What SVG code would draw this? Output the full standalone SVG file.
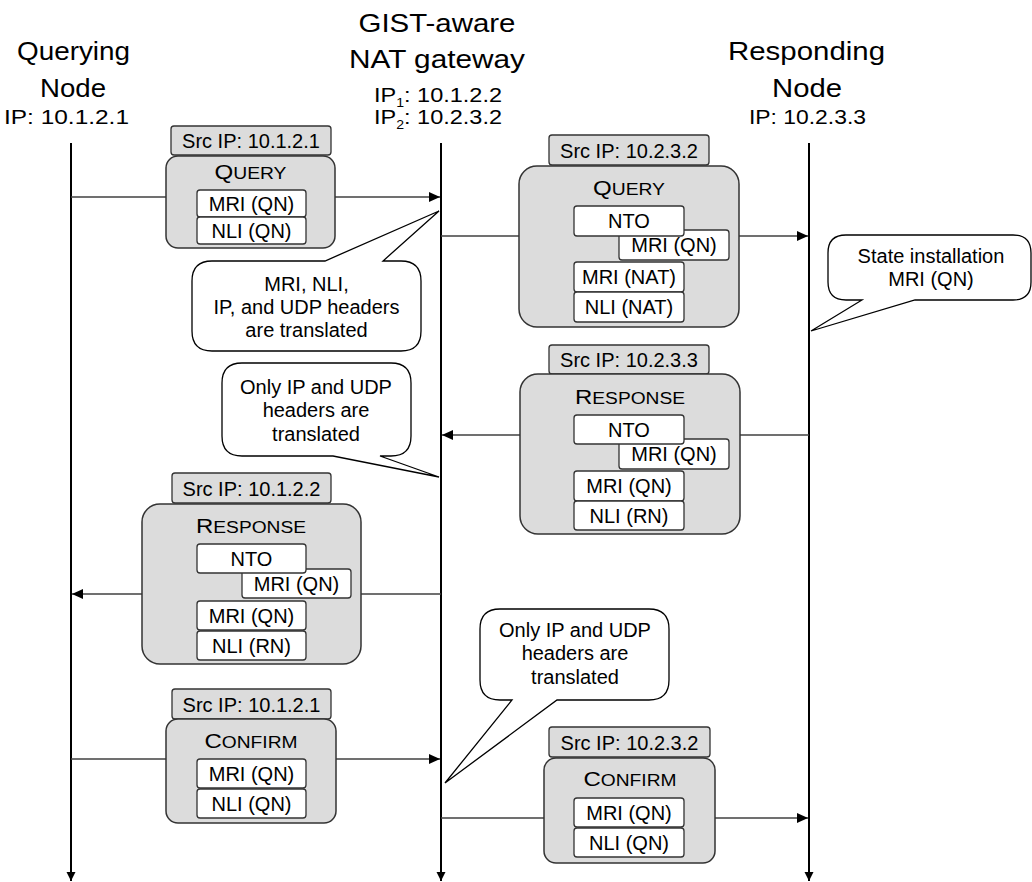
<svg xmlns="http://www.w3.org/2000/svg" width="1032" height="882" viewBox="0 0 1032 882">
<style>
text{font-family:"Liberation Sans",Arial,sans-serif;fill:#000}
.hd{font-size:26px;text-anchor:middle}
.ip{font-size:20px;text-anchor:middle}
.t{font-size:20px;text-anchor:middle}
.sc{font-size:16px}
.life{stroke:#000;stroke-width:2;fill:none}
.msg{stroke:#404040;stroke-width:1.4;fill:none}
.tab{fill:#dcdcdc;stroke:#333;stroke-width:1.3}
.box{fill:#dcdcdc;stroke:#333;stroke-width:1.5}
.in{fill:#fff;stroke:#333;stroke-width:1.3}
.call{fill:#fff;stroke:#000;stroke-width:1.3}
</style>
<defs>
<marker id="ah" markerUnits="userSpaceOnUse" markerWidth="12" markerHeight="10" refX="11" refY="5" orient="auto">
<path d="M0,0 L11,5 L0,10 Z" fill="#000"/>
</marker>
<marker id="lh" markerUnits="userSpaceOnUse" markerWidth="10" markerHeight="10" refX="9" refY="4.5" orient="auto">
<path d="M0,0 L9,4.5 L0,9 Z" fill="#000"/>
</marker>
</defs>

<g id="querying-node">
<text class="hd" x="73.5" y="60" textLength="113" lengthAdjust="spacingAndGlyphs">Querying</text>
<text class="hd" x="73" y="97" textLength="66" lengthAdjust="spacingAndGlyphs">Node</text>
<text class="ip" x="66.5" y="124" textLength="125" lengthAdjust="spacingAndGlyphs">IP: 10.1.2.1</text>
</g>
<g id="nat-gateway">
<text class="hd" x="437" y="32" textLength="157" lengthAdjust="spacingAndGlyphs">GIST-aware</text>
<text class="hd" x="437" y="68" textLength="176" lengthAdjust="spacingAndGlyphs">NAT gateway</text>
<text class="ip" x="438" y="102" textLength="128" lengthAdjust="spacingAndGlyphs">IP<tspan font-size="12" dy="5">1</tspan><tspan dy="-5">: 10.1.2.2</tspan></text>
<text class="ip" x="438" y="124" textLength="128" lengthAdjust="spacingAndGlyphs">IP<tspan font-size="12" dy="5">2</tspan><tspan dy="-5">: 10.2.3.2</tspan></text>
</g>
<g id="responding-node">
<text class="hd" x="806.5" y="60" textLength="157" lengthAdjust="spacingAndGlyphs">Responding</text>
<text class="hd" x="807" y="97" textLength="70" lengthAdjust="spacingAndGlyphs">Node</text>
<text class="ip" x="807.5" y="124" textLength="117" lengthAdjust="spacingAndGlyphs">IP: 10.2.3.3</text>
</g>

<g id="connectors">
<line class="life" x1="71" y1="143" x2="71" y2="881" marker-end="url(#lh)"/>
<line class="life" x1="441" y1="143" x2="441" y2="881" marker-end="url(#lh)"/>
<line class="life" x1="809" y1="143" x2="809" y2="881" marker-end="url(#lh)"/>
<line class="msg" x1="71" y1="197" x2="440" y2="197" marker-end="url(#ah)"/>
<line class="msg" x1="441" y1="236" x2="808" y2="236" marker-end="url(#ah)"/>
<line class="msg" x1="809" y1="435" x2="442" y2="435" marker-end="url(#ah)"/>
<line class="msg" x1="441" y1="594" x2="72" y2="594" marker-end="url(#ah)"/>
<line class="msg" x1="71" y1="759" x2="440" y2="759" marker-end="url(#ah)"/>
<line class="msg" x1="441" y1="818" x2="808" y2="818" marker-end="url(#ah)"/>
</g>

<g id="query-1">
<rect class="tab" x="171" y="126" width="160" height="29" rx="3"/>
<text class="t" x="251" y="148">Src IP: 10.1.2.1</text>
<rect class="box" x="166" y="156" width="169" height="92" rx="12"/>
<text class="t" x="250.5" y="179" textLength="72" lengthAdjust="spacingAndGlyphs">Q<tspan class="sc">UERY</tspan></text>
<rect class="in" x="197" y="190" width="109" height="27" rx="3"/>
<text class="t" x="251.5" y="210.5">MRI (QN)</text>
<rect class="in" x="197" y="217" width="109" height="27" rx="3"/>
<text class="t" x="251.5" y="237.5">NLI (QN)</text>
</g>

<g id="query-2">
<rect class="tab" x="549" y="135" width="160" height="30" rx="3"/>
<text class="t" x="629" y="157.5">Src IP: 10.2.3.2</text>
<rect class="box" x="519" y="166" width="220" height="161" rx="18"/>
<text class="t" x="629" y="195" textLength="72" lengthAdjust="spacingAndGlyphs">Q<tspan class="sc">UERY</tspan></text>
<rect class="in" x="619" y="230" width="110" height="30" rx="3"/>
<text class="t" x="674" y="252">MRI (QN)</text>
<rect class="in" x="574" y="206" width="110" height="30" rx="3"/>
<text class="t" x="629" y="228">NTO</text>
<rect class="in" x="574" y="262" width="110" height="30" rx="3"/>
<text class="t" x="629" y="284">MRI (NAT)</text>
<rect class="in" x="574" y="292" width="110" height="30" rx="3"/>
<text class="t" x="629" y="314">NLI (NAT)</text>
</g>

<g id="response-1">
<rect class="tab" x="549" y="345" width="160" height="29" rx="3"/>
<text class="t" x="629" y="367">Src IP: 10.2.3.3</text>
<rect class="box" x="520" y="374" width="220" height="160" rx="18"/>
<text class="t" x="630" y="404" textLength="110" lengthAdjust="spacingAndGlyphs">R<tspan class="sc">ESPONSE</tspan></text>
<rect class="in" x="619" y="439" width="110" height="30" rx="3"/>
<text class="t" x="674" y="461">MRI (QN)</text>
<rect class="in" x="574" y="415" width="110" height="29" rx="3"/>
<text class="t" x="629" y="436.5">NTO</text>
<rect class="in" x="574" y="471" width="110" height="30" rx="3"/>
<text class="t" x="629" y="493">MRI (QN)</text>
<rect class="in" x="574" y="501" width="110" height="29" rx="3"/>
<text class="t" x="629" y="522.5">NLI (RN)</text>
</g>

<g id="response-2">
<rect class="tab" x="172" y="473" width="159" height="30" rx="3"/>
<text class="t" x="251.5" y="495.5">Src IP: 10.1.2.2</text>
<rect class="box" x="142" y="504" width="219" height="160" rx="18"/>
<text class="t" x="251" y="533" textLength="110" lengthAdjust="spacingAndGlyphs">R<tspan class="sc">ESPONSE</tspan></text>
<rect class="in" x="242" y="569" width="109" height="29" rx="3"/>
<text class="t" x="296.5" y="590.5">MRI (QN)</text>
<rect class="in" x="197" y="544" width="109" height="29" rx="3"/>
<text class="t" x="251.5" y="565.5">NTO</text>
<rect class="in" x="197" y="601" width="109" height="29" rx="3"/>
<text class="t" x="251.5" y="622.5">MRI (QN)</text>
<rect class="in" x="197" y="631" width="109" height="29" rx="3"/>
<text class="t" x="251.5" y="652.5">NLI (RN)</text>
</g>

<g id="confirm-1">
<rect class="tab" x="172" y="689" width="159" height="30" rx="3"/>
<text class="t" x="251.5" y="711.5">Src IP: 10.1.2.1</text>
<rect class="box" x="166" y="719" width="170" height="104" rx="12"/>
<text class="t" x="251" y="748" textLength="93" lengthAdjust="spacingAndGlyphs">C<tspan class="sc">ONFIRM</tspan></text>
<rect class="in" x="197" y="759" width="109" height="29" rx="3"/>
<text class="t" x="251.5" y="780.5">MRI (QN)</text>
<rect class="in" x="197" y="789" width="109" height="29" rx="3"/>
<text class="t" x="251.5" y="810.5">NLI (QN)</text>
</g>

<g id="confirm-2">
<rect class="tab" x="549" y="727" width="161" height="30" rx="3"/>
<text class="t" x="629.5" y="749.5">Src IP: 10.2.3.2</text>
<rect class="box" x="544" y="758" width="171" height="105" rx="12"/>
<text class="t" x="630" y="786" textLength="93" lengthAdjust="spacingAndGlyphs">C<tspan class="sc">ONFIRM</tspan></text>
<rect class="in" x="574" y="798" width="110" height="29" rx="3"/>
<text class="t" x="629" y="819.5">MRI (QN)</text>
<rect class="in" x="574" y="828" width="110" height="29" rx="3"/>
<text class="t" x="629" y="849.5">NLI (QN)</text>
</g>

<g id="note-translated-1">
<path class="call" d="M212,261 L325,261 L439,211 L383,261 L401,261 Q421,261 421,281 L421,331 Q421,351 401,351 L212,351 Q192,351 192,331 L192,281 Q192,261 212,261 Z"/>
<text class="t" x="306.5" y="291">MRI, NLI,</text>
<text class="t" x="306.5" y="314">IP, and UDP headers</text>
<text class="t" x="306.5" y="337">are translated</text>
</g>

<g id="note-state">
<path class="call" d="M846,235 L1013,235 Q1031,235 1031,253 L1031,282 Q1031,300 1013,300 L915,300 L811,331 L862,300 L846,300 Q828,300 828,282 L828,253 Q828,235 846,235 Z"/>
<text class="t" x="931" y="263">State installation</text>
<text class="t" x="931" y="286">MRI (QN)</text>
</g>

<g id="note-translated-2">
<path class="call" d="M242,363 L391,363 Q411,363 411,383 L411,436 Q411,456 391,456 L380,456 L439,477 L333,456 L242,456 Q222,456 222,436 L222,383 Q222,363 242,363 Z"/>
<text class="t" x="316" y="394">Only IP and UDP</text>
<text class="t" x="316" y="417">headers are</text>
<text class="t" x="316" y="441">translated</text>
</g>

<g id="note-translated-3">
<path class="call" d="M500,609 L649,609 Q669,609 669,629 L669,680 Q669,700 649,700 L557,700 L445,783 L512,700 L500,700 Q480,700 480,680 L480,629 Q480,609 500,609 Z"/>
<text class="t" x="575" y="637">Only IP and UDP</text>
<text class="t" x="575" y="660">headers are</text>
<text class="t" x="575" y="684">translated</text>
</g>
</svg>
